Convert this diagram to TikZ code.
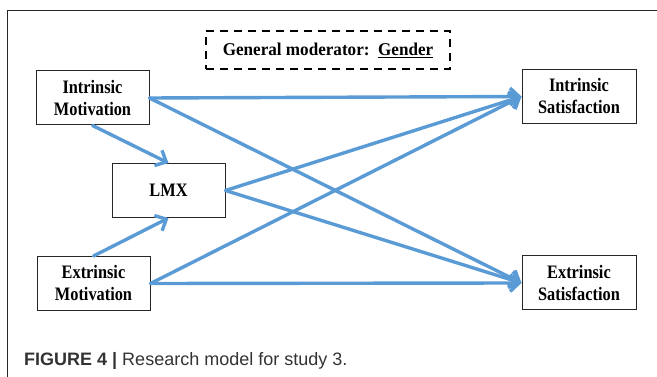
\documentclass[tikz,border=0pt]{standalone}
\usepackage{fontspec}
\usetikzlibrary{arrows.meta}
\newfontfamily\boxfont[FakeStretch=0.86]{Liberation Serif}
\newfontfamily\modfont[FakeStretch=0.95]{Liberation Serif}
\newfontfamily\capfont{Liberation Sans}
\definecolor{arrowblue}{HTML}{5B9BD5}
\definecolor{capgray}{HTML}{333333}
\tikzset{
  varbox/.style={draw=black!85, line width=1pt, fill=white, minimum width=113pt, minimum height=54pt,
    inner sep=0pt, align=center, font=\boxfont\bfseries\fontsize{19}{22}\selectfont},
  path arrow/.style={draw=arrowblue, line width=3.4pt, -{Straight Barb[length=9pt,width=17pt]}, line cap=round},
}
\begin{document}
\begin{tikzpicture}[x=1pt,y=-1pt]
\useasboundingbox (0,0) rectangle (657,377);
% frame
\draw[black!85, line width=1.3pt] (657,10.5) -- (7.5,10.5) -- (7.5,377);
% moderator
\node[draw=black, line width=2.6pt, dash pattern=on 8pt off 6pt, minimum width=244pt, minimum height=38pt, inner sep=0pt,
  font=\modfont\bfseries\fontsize{18}{21}\selectfont] (mod) at (328,50) {General moderator:\ \ \underline{Gender}};
\node[varbox] (im) at (92.5,98) {Intrinsic\\Motivation};
\node[varbox] (lmx) at (168.5,190.5) {LMX};
\node[varbox] (em) at (93.5,283.5) {Extrinsic\\Motivation};
\node[varbox, minimum width=114pt] (is) at (579,96.5) {Intrinsic\\Satisfaction};
\node[varbox, minimum width=114pt] (es) at (579,283) {Extrinsic\\Satisfaction};
\draw[path arrow] (im.east) -- (is.west);
\draw[path arrow] (im.east) -- (es.west);
\draw[path arrow] (im.south) -- (lmx.north);
\draw[path arrow] (em.north) -- (lmx.south);
\draw[path arrow] (lmx.east) -- (is.west);
\draw[path arrow] (lmx.east) -- (es.west);
\draw[path arrow] (em.east) -- (is.west);
\draw[path arrow] (em.east) -- (es.west);
% caption
\node[anchor=base west, inner sep=0pt, text=capgray, font=\capfont\fontsize{18}{21}\selectfont] (cap) at (24,366)
  {\textbf{FIGURE 4 |} Research model for study 3.};
\end{tikzpicture}
\end{document}
